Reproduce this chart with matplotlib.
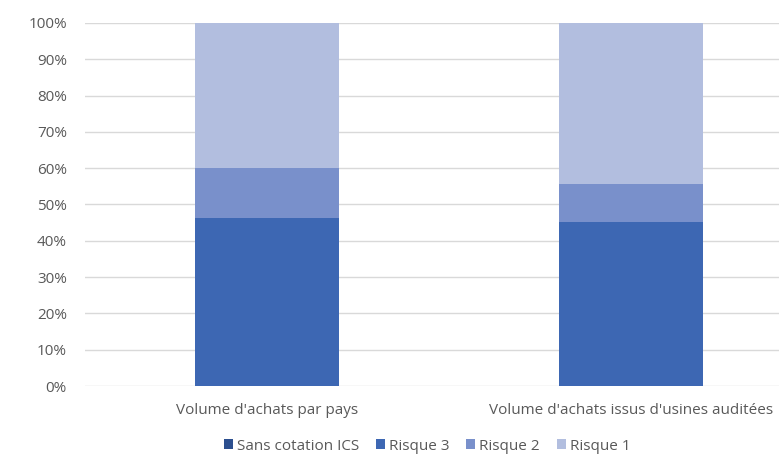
import matplotlib.pyplot as plt
from matplotlib.ticker import PercentFormatter

categories = ["Volume d'achats par pays", "Volume d'achats issus d'usines auditées"]
series = ["Sans cotation ICS", "Risque 3", "Risque 2", "Risque 1"]
sans_cotation = [0, 0]
risque3 = [46.2, 45.2]
risque2 = [13.8, 10.4]
risque1 = [40.0, 44.4]
colors = ["#2c4f8f", "#3d67b3", "#7990cb", "#b2bedf"]

plt.rcParams['font.family'] = ['Open Sans', 'DejaVu Sans']

fig = plt.figure(figsize=(7.79, 4.55), dpi=100)
ax = fig.add_axes([85 / 779, 69 / 455, 728 / 779, 363 / 455])

x = list(range(len(categories)))
bottom = [0, 0]
for name, vals, c in zip(series, [sans_cotation, risque3, risque2, risque1], colors):
    ax.bar(x, vals, width=0.396, bottom=bottom, color=c, label=name, zorder=2)
    bottom = [b + v for b, v in zip(bottom, vals)]

ax.set_xlim(-0.5, 1.5)
ax.set_ylim(0, 100)
ax.set_yticks(range(0, 101, 10))
ax.yaxis.set_major_formatter(PercentFormatter(decimals=0))
ax.set_xticks(x)
ax.set_xticklabels(categories)
ax.grid(axis='y', color='#d9d9d9', linewidth=1, zorder=0)
for s in ax.spines.values():
    s.set_visible(False)
ax.tick_params(axis='both', length=0, colors='#595959', labelsize=11)
ax.tick_params(axis='x', pad=12)
ax.tick_params(axis='y', pad=13)

fig.legend(loc='center', bbox_to_anchor=(427 / 779, 1 - 446 / 455), ncol=4,
           frameon=False, fontsize=11, labelcolor='#595959', handlelength=0.6,
           handleheight=0.6, handletextpad=0.25, columnspacing=1.1)

fig.savefig('out.png', dpi=100)
